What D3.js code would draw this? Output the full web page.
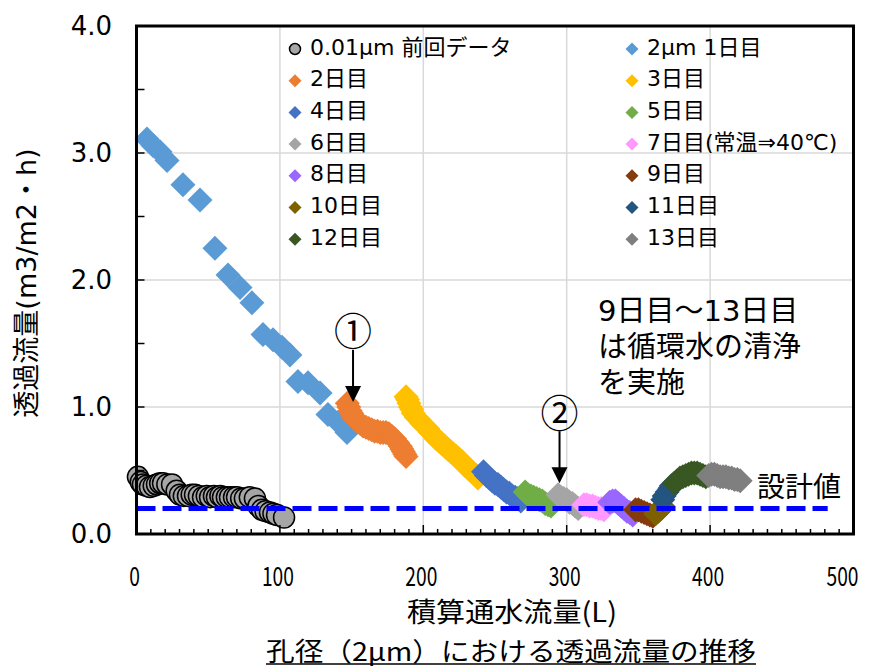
<!DOCTYPE html>
<html><head><meta charset="utf-8">
<script src="https://cdn.jsdelivr.net/npm/d3@7"></script>
<style>body{margin:0;background:#fff} svg{display:block}</style>
</head><body>
<svg id="c" width="877" height="668"></svg>
<script>
// ---------- data ----------
const xTicks = [0, 100, 200, 300, 400, 500];
const yTicks = [0, 1, 2, 3, 4];
const yLabels = ["0.0", "1.0", "2.0", "3.0", "4.0"];
const designValue = 0.2;
const designEndX = 482;

const legendLeft = ["0.01μm 前回データ", "2日目", "4日目", "6日目", "8日目", "10日目", "12日目"];
const legendRight = ["2μm 1日目", "3日目", "5日目", "7日目(常温⇒40℃)", "9日目", "11日目", "13日目"];

const dayColors = ["#5b9bd5", "#ed7d31", "#ffc000", "#4472c4", "#70ad47", "#a5a5a5", "#ff99ff",
                   "#9966ff", "#843c0c", "#7f6000", "#245480", "#385723", "#7f7f7f"];
const prevColor = "#a6a6a6";

const prevData = [[1.0,0.45],[3.0,0.41],[4.5,0.39],[7.0,0.38],[9.4,0.37],[12.0,0.38],[14.3,0.39],[16.5,0.40],
  [18.5,0.40],[21.5,0.39],[24.8,0.39],[28.0,0.34],[30.3,0.31],[33.0,0.30],[35.9,0.30],[38.5,0.31],[40.8,0.31],
  [43.5,0.30],[46.4,0.29],[49.0,0.30],[51.3,0.29],[54.0,0.30],[56.1,0.29],[58.5,0.30],[60.3,0.29],[63.0,0.29],
  [65.2,0.29],[68.0,0.29],[70.1,0.29],[73.0,0.28],[75.6,0.28],[79.0,0.29],[82.6,0.28],[85.0,0.22],
  [87.5,0.19],[90.0,0.18],[93.1,0.17],[95.5,0.16],[98.0,0.15],[102.9,0.13]];

const day1 = [[7.3,3.11],[11.5,3.06],[16.4,3.01],[21.3,2.94],[32.4,2.75],[44.3,2.63],[54.7,2.25],[63.8,2.04],
  [72.2,1.94],[80.5,1.82],[88.2,1.57],[95.2,1.53],[101.5,1.47],[107.0,1.41],[112.6,1.20],[119.6,1.19],
  [128.0,1.11],[133.5,0.94],[140.5,0.88],[146.8,0.80]];
const day2 = [[147,1.03],[148,1.00],[149,0.97],[150,0.95],[151,0.93],[152,0.91],[154,0.89],[156,0.87],[158,0.85],
  [160,0.84],[162,0.83],[164,0.82],[166,0.81],[168,0.81],[170,0.80],[172,0.80],[174,0.80],[176,0.79],[178,0.77],
  [180,0.75],[182,0.72],[184,0.69],[185,0.67],[186,0.65],[187,0.63],[188,0.61]];
const day3 = [[188,1.08],[189,1.06],[190,1.03],[191,1.00],[192,0.98],[193,0.95],[195,0.92],[197,0.90],[199,0.87],
  [201,0.85],[203,0.83],[205,0.80],[207,0.78],[209,0.75],[211,0.73],[213,0.71],[215,0.69],[217,0.67],[219,0.65],
  [221,0.63],[223,0.61],[225,0.59],[227,0.57],[229,0.54],[231,0.52],[233,0.50],[235,0.48],[237,0.46],[238,0.44]];
const day4 = [[242,0.49],[244,0.46],[246,0.44],[248,0.42],[250,0.40],[252,0.39],[254,0.37],[256,0.35],[258,0.33],
  [260,0.32],[262,0.30],[264,0.29],[266,0.28],[268,0.26]];
const day5 = [[271,0.33],[273,0.31],[275,0.30],[277,0.29],[279,0.28],[281,0.27],[283,0.26],[285,0.24],[287,0.23],[289,0.22]];
const day6 = [[294,0.31],[296,0.29],[298,0.28],[300,0.27],[302,0.25],[304,0.24],[306,0.22],[308,0.20]];
const day7 = [[312,0.23],[314,0.23],[316,0.22],[318,0.22],[320,0.21],[322,0.20],[324,0.20],[326,0.19]];
const day8 = [[330,0.25],[332,0.26],[334,0.26],[336,0.24],[338,0.22],[340,0.20],[342,0.18],[344,0.17],[346,0.15]];
const day9 = [[348,0.19],[350,0.19],[352,0.18],[354,0.17],[356,0.16],[358,0.15],[360,0.14]];
const day10 = [[362,0.16],[364,0.18],[366,0.20],[367,0.22]];
const day11 = [[367,0.27],[368,0.30],[370,0.33],[372,0.36],[373,0.38]];
const day12 = [[375,0.40],[377,0.42],[379,0.44],[381,0.45],[383,0.46],[385,0.47],[387,0.48],[389,0.48],[391,0.48],
  [393,0.47],[395,0.46],[397,0.45]];
const day13 = [[399,0.46],[401,0.47],[403,0.47],[405,0.46],[407,0.45],[409,0.45],[411,0.45],[413,0.44],[415,0.44],
  [417,0.43],[419,0.43],[421,0.42]];
const days = [day1, day2, day3, day4, day5, day6, day7, day8, day9, day10, day11, day12, day13];

const note1 = {x: 151, y: 1.04, label: "①"};
const note2 = {x: 295, y: 0.40, label: "②"};
const remarkLines = ["9日目～13日目", "は循環水の清浄", "を実施"];

// ---------- drawing ----------
const FJ = "'DejaVu Sans','Noto Sans CJK JP',sans-serif";
const FN = "'Noto Sans CJK JP',sans-serif";
const svg = d3.select("#c");
const x = d3.scaleLinear([0, 500], [136.5, 853.5]);
const y = d3.scaleLinear([0, 4], [534, 26]);

// grid
svg.append("g").selectAll("line").data([100, 200, 300, 400]).join("line")
  .attr("x1", d => x(d)).attr("x2", d => x(d)).attr("y1", y(4)).attr("y2", y(0))
  .attr("stroke", "#d9d9d9").attr("stroke-width", 1.5);
svg.append("g").selectAll("line").data([1, 2, 3]).join("line")
  .attr("y1", d => y(d)).attr("y2", d => y(d)).attr("x1", x(0)).attr("x2", x(500))
  .attr("stroke", "#d9d9d9").attr("stroke-width", 1.5);

const diamond = r => `M0,${-r}L${r},0L0,${r}L${-r},0Z`;

// previous data circles
svg.append("g").selectAll("circle").data(prevData).join("circle")
  .attr("cx", d => x(d[0])).attr("cy", d => y(d[1])).attr("r", 10.5)
  .attr("fill", prevColor).attr("stroke", "#000").attr("stroke-width", 1.5);

// day series
days.forEach((s, i) => {
  svg.append("g").selectAll("path").data(s).join("path")
    .attr("d", diamond(12.5))
    .attr("transform", d => `translate(${x(d[0])},${y(d[1])})`)
    .attr("fill", dayColors[i]);
});

// design line
svg.append("line").attr("x1", x(0)).attr("x2", x(designEndX))
  .attr("y1", y(designValue)).attr("y2", y(designValue))
  .attr("stroke", "#0000ff").attr("stroke-width", 5).attr("stroke-dasharray", "19 7");
svg.append("text").attr("x", 757).attr("y", y(designValue) - 24)
  .attr("dominant-baseline", "central").attr("font-family", FN).attr("font-size", 28)
  .attr("fill", "#000").text("設計値");

// axes ticks
const ax = svg.append("g");
ax.selectAll("line.xm").data(d3.range(0, 501, 10)).join("line")
  .attr("x1", d => x(d)).attr("x2", d => x(d)).attr("y1", y(0)).attr("y2", d => y(0) - (d % 100 === 0 ? 9 : 5))
  .attr("stroke", "#000").attr("stroke-width", 1.5);
ax.selectAll("line.ym").data(d3.range(0, 4.01, 0.5)).join("line")
  .attr("y1", d => y(d)).attr("y2", d => y(d)).attr("x1", x(0)).attr("x2", x(0) + 8)
  .attr("stroke", "#000").attr("stroke-width", 1.5);
svg.append("rect").attr("x", x(0)).attr("y", y(4)).attr("width", x(500) - x(0)).attr("height", y(0) - y(4))
  .attr("fill", "none").attr("stroke", "#000").attr("stroke-width", 3);

// tick labels
svg.append("g").selectAll("text").data(yTicks).join("text")
  .attr("x", 112).attr("y", d => y(d)).attr("text-anchor", "end").attr("dominant-baseline", "central")
  .attr("font-family", FJ).attr("font-size", 26).attr("fill", "#000")
  .text((d, i) => yLabels[i]);
svg.append("g").selectAll("text").data(xTicks).join("text")
  .attr("transform", d => `translate(${x(d) - (d === 500 ? 11 : 2)},575) scale(0.74,1)`)
  .attr("text-anchor", "middle").attr("dominant-baseline", "central")
  .attr("font-family", FN).attr("font-size", 26).attr("fill", "#000").text(d => d);

// axis titles
svg.append("text").attr("transform", "translate(26,283) rotate(-90)")
  .attr("text-anchor", "middle").attr("dominant-baseline", "central")
  .attr("font-family", FJ).attr("font-size", 27).attr("fill", "#000").text("透過流量(m3/m2・h)");
svg.append("text").attr("x", 512).attr("y", 610).attr("text-anchor", "middle").attr("dominant-baseline", "central")
  .attr("font-family", FN).attr("font-size", 27).attr("fill", "#000")
  .attr("textLength", 210).attr("lengthAdjust", "spacingAndGlyphs").text("積算通水流量(L)");
const subW = 490;
svg.append("text").attr("x", 511).attr("y", 649).attr("text-anchor", "middle").attr("dominant-baseline", "central")
  .attr("font-family", FN).attr("font-size", 26).attr("fill", "#000")
  .attr("textLength", subW).attr("lengthAdjust", "spacingAndGlyphs").text("孔径（2μm）における透過流量の推移");
svg.append("line").attr("x1", 511 - subW / 2).attr("x2", 511 + subW / 2).attr("y1", 664).attr("y2", 664)
  .attr("stroke", "#000").attr("stroke-width", 1.5);

// legend
const rowY = i => 47 + i * 31.7;
const lg = svg.append("g");
legendLeft.forEach((t, i) => {
  if (i === 0) {
    lg.append("circle").attr("cx", 295).attr("cy", rowY(i) + 2).attr("r", 5.5)
      .attr("fill", prevColor).attr("stroke", "#000").attr("stroke-width", 1.5);
  } else {
    lg.append("path").attr("d", diamond(6.5)).attr("transform", `translate(295,${rowY(i) + 2})`)
      .attr("fill", dayColors[i * 2 - 1]);
  }
  lg.append("text").attr("x", 310).attr("y", rowY(i)).attr("dominant-baseline", "central")
    .attr("font-family", FJ).attr("font-size", 22).attr("fill", "#000").text(t);
});
legendRight.forEach((t, i) => {
  lg.append("path").attr("d", diamond(6.5)).attr("transform", `translate(632,${rowY(i) + 2})`)
    .attr("fill", dayColors[i * 2]);
  lg.append("text").attr("x", 647).attr("y", rowY(i)).attr("dominant-baseline", "central")
    .attr("font-family", FJ).attr("font-size", 22).attr("fill", "#000").text(t);
});

// remark
svg.append("g").selectAll("text").data(remarkLines).join("text")
  .attr("x", 598).attr("y", (d, i) => 311 + i * 36).attr("dominant-baseline", "central")
  .attr("font-family", FJ).attr("font-size", 29).attr("fill", "#000").text(d => d);

// annotations
[note1, note2].forEach(n => {
  const px = x(n.x), tip = y(n.y);
  svg.append("text").attr("x", px).attr("y", tip - 73).attr("text-anchor", "middle").attr("dominant-baseline", "central")
    .attr("font-family", FN).attr("font-size", 38).attr("fill", "#000").text(n.label);
  svg.append("line").attr("x1", px).attr("x2", px).attr("y1", tip - 52).attr("y2", tip - 14)
    .attr("stroke", "#000").attr("stroke-width", 2);
  svg.append("path").attr("d", `M${px},${tip}L${px - 8},${tip - 16}L${px + 8},${tip - 16}Z`).attr("fill", "#000");
});
</script>
</body></html>
